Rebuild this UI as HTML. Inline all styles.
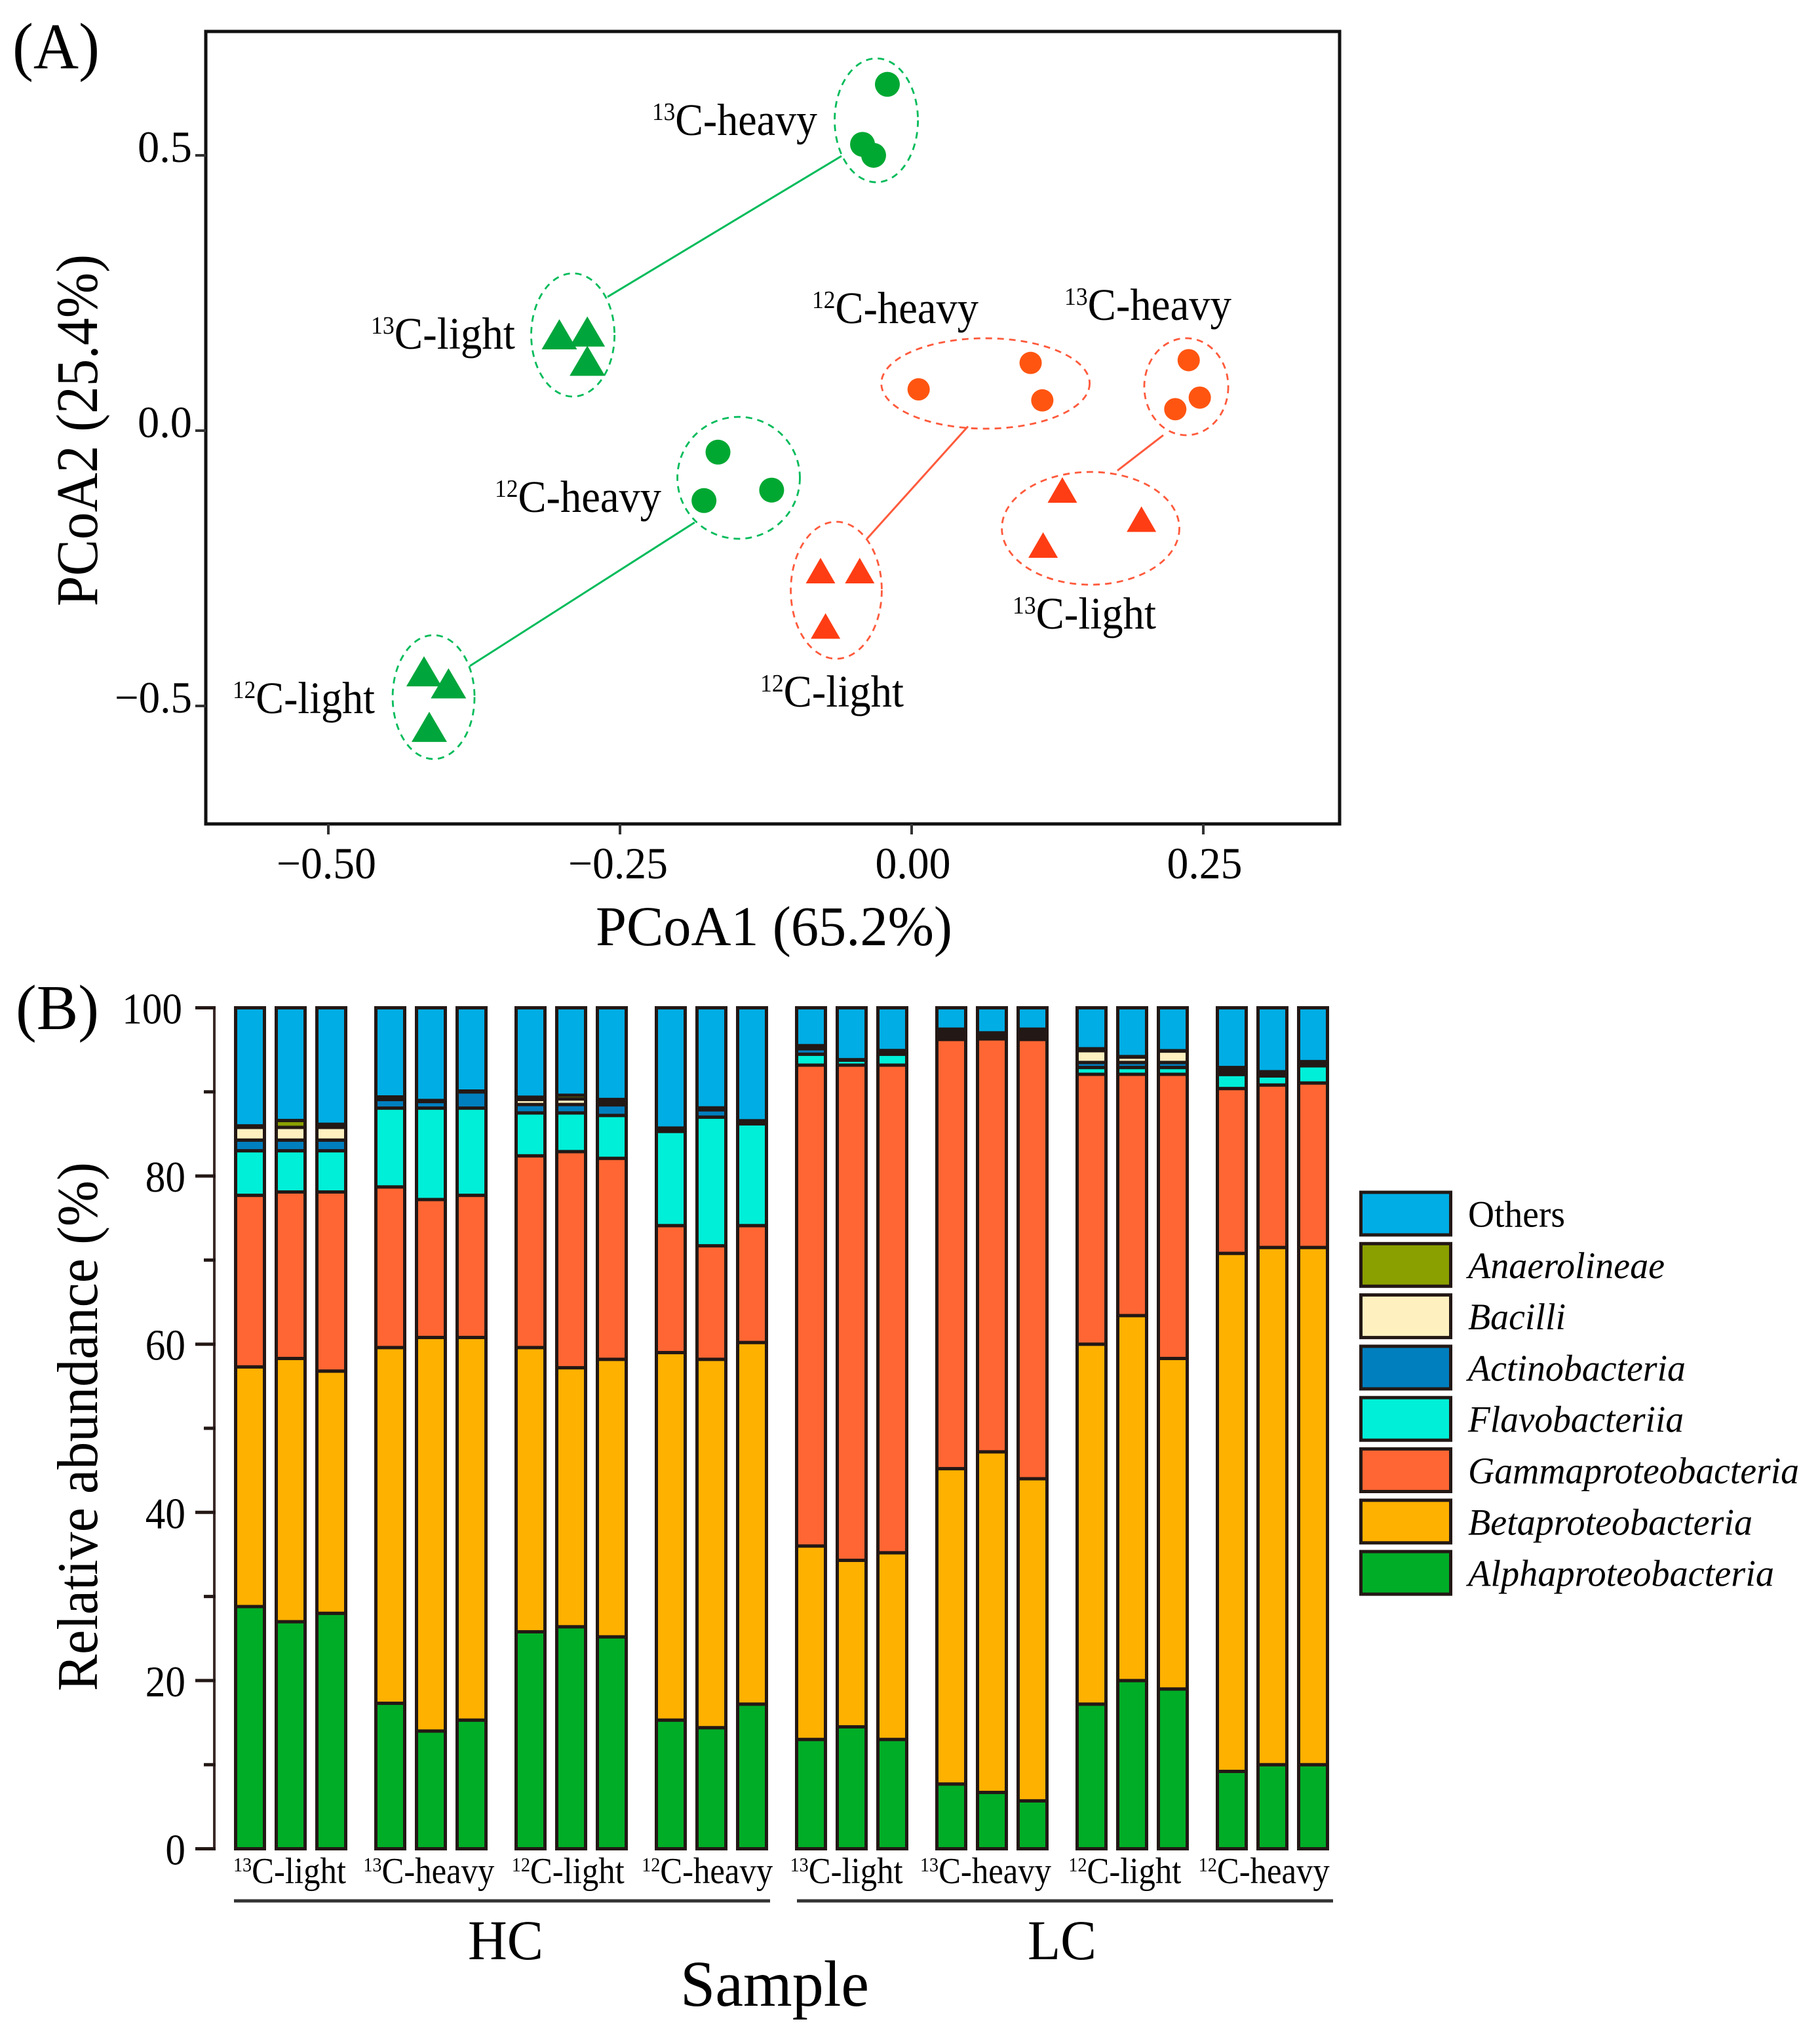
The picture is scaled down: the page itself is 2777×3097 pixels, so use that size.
<!DOCTYPE html>
<html lang="en">
<head>
<meta charset="utf-8">
<title>PCoA and relative abundance chart</title>
<style>
html,body{margin:0;padding:0;background:#fff;}
svg{display:block;}
text{font-family:"Liberation Serif",serif;fill:#000;}
</style>
</head>
<body>
<svg id="chart" xmlns="http://www.w3.org/2000/svg" width="2777" height="3097" viewBox="0 0 2777 3097">
<rect x="0" y="0" width="2777" height="3097" fill="#fff"/>

<text x="19" y="104" font-size="100" textLength="133" lengthAdjust="spacingAndGlyphs">(A)</text>
<rect x="314" y="48" width="1730" height="1209" fill="none" stroke="#111" stroke-width="5"/>
<g id="scatterAxes"></g>
<g id="scatterGuides"></g>
<g id="scatterMarks"></g>

<text x="995" y="206" font-size="69" textLength="252" lengthAdjust="spacingAndGlyphs"><tspan font-size="38" dy="-23">13</tspan><tspan dy="23">C-heavy</tspan></text>
<text x="566" y="532" font-size="69" textLength="220" lengthAdjust="spacingAndGlyphs"><tspan font-size="38" dy="-23">13</tspan><tspan dy="23">C-light</tspan></text>
<text x="755" y="781" font-size="69" textLength="254" lengthAdjust="spacingAndGlyphs"><tspan font-size="38" dy="-23">12</tspan><tspan dy="23">C-heavy</tspan></text>
<text x="355" y="1088" font-size="69" textLength="217" lengthAdjust="spacingAndGlyphs"><tspan font-size="38" dy="-23">12</tspan><tspan dy="23">C-light</tspan></text>
<text x="1239" y="493" font-size="69" textLength="254" lengthAdjust="spacingAndGlyphs"><tspan font-size="38" dy="-23">12</tspan><tspan dy="23">C-heavy</tspan></text>
<text x="1624" y="488" font-size="69" textLength="255" lengthAdjust="spacingAndGlyphs"><tspan font-size="38" dy="-23">13</tspan><tspan dy="23">C-heavy</tspan></text>
<text x="1545" y="959" font-size="69" textLength="219" lengthAdjust="spacingAndGlyphs"><tspan font-size="38" dy="-23">13</tspan><tspan dy="23">C-light</tspan></text>
<text x="1160" y="1078" font-size="69" textLength="219" lengthAdjust="spacingAndGlyphs"><tspan font-size="38" dy="-23">12</tspan><tspan dy="23">C-light</tspan></text>

<text x="909" y="1442" font-size="86" textLength="544" lengthAdjust="spacingAndGlyphs">PCoA1 (65.2%)</text>
<text transform="translate(148,925) rotate(-90)" x="0" y="0" font-size="90" textLength="537" lengthAdjust="spacingAndGlyphs">PCoA2 (25.4%)</text>

<text x="24" y="1570" font-size="98" textLength="127" lengthAdjust="spacingAndGlyphs">(B)</text>
<text transform="translate(148,2580) rotate(-90)" x="0" y="0" font-size="88" textLength="807" lengthAdjust="spacingAndGlyphs">Relative abundance (%)</text>
<g id="barAxes"></g>
<g id="barMarks"></g>
<g id="barLabels"></g>

<line x1="357" y1="2900" x2="1175" y2="2900" stroke="#333" stroke-width="5"/>
<line x1="1216" y1="2900" x2="2034" y2="2900" stroke="#333" stroke-width="5"/>
<text x="714" y="2989" font-size="86" textLength="115" lengthAdjust="spacingAndGlyphs">HC</text>
<text x="1568" y="2989" font-size="86" textLength="105" lengthAdjust="spacingAndGlyphs">LC</text>
<text x="1038" y="3060" font-size="100" textLength="288" lengthAdjust="spacingAndGlyphs">Sample</text>
<g id="legend"></g>
</svg>

<script>
// ---------- Panel A data (PCoA units) ----------
const greenCircleX = [-0.0208, -0.0421, -0.0326, -0.166, -0.120, -0.178];
const greenCircleY = [0.629, 0.520, 0.500, -0.039, -0.108, -0.127];
const greenTriangleX = [-0.302, -0.278, -0.278, -0.418, -0.397, -0.4135];
const greenTriangleY = [0.175, 0.180, 0.127, -0.437, -0.459, -0.538];
const orangeCircleX = [0.006, 0.102, 0.112, 0.2375, 0.247, 0.226];
const orangeCircleY = [0.075, 0.123, 0.055, 0.128, 0.060, 0.039];
const orangeTriangleX = [0.1292, 0.197, 0.1127, -0.0781, -0.0445, -0.0738];
const orangeTriangleY = [-0.1077, -0.1607, -0.2077, -0.2542, -0.2542, -0.3548];
const xTickValues = [-0.5, -0.25, 0, 0.25];
const xTickLabels = ['\u22120.50', '\u22120.25', '0.00', '0.25'];
const yTickValues = [0.5, 0, -0.5];
const yTickLabels = ['0.5', '0.0', '\u22120.5'];
const clusterCx = [-0.0303, -0.2904, -0.1483, -0.4098, 0.0633, 0.2354, 0.1534, -0.0646];
const clusterCy = [0.5636, 0.1738, -0.0857, -0.4839, 0.0857, 0.0798, -0.1774, -0.2899];
const clusterRx = [0.0357, 0.0357, 0.0525, 0.0351, 0.0893, 0.036, 0.0761, 0.039];
const clusterRy = [0.1125, 0.1119, 0.1107, 0.1125, 0.0821, 0.0881, 0.1024, 0.1244];
const clusterHue = ['green', 'green', 'green', 'green', 'orange', 'orange', 'orange', 'orange'];
const linkX1 = [-0.0601, -0.186, 0.0483, 0.2157];
const linkY1 = [0.4988, -0.1667, 0.0077, -0.0083];
const linkX2 = [-0.2607, -0.3787, -0.0382, 0.1764];
const linkY2 = [0.2429, -0.4274, -0.1961, -0.0726];
const linkHue = ['green', 'green', 'orange', 'orange'];

// ---------- Panel B data (percent) ----------
const sampleGroups = ['13C-light', '13C-heavy', '12C-light', '12C-heavy', '13C-light', '13C-heavy', '12C-light', '12C-heavy'];
const alphaValues = [28.8, 27, 28, 17.3, 14, 15.3, 25.8, 26.4, 25.2, 15.3, 14.4, 17.2, 13, 14.5, 13, 7.7, 6.7, 5.7, 17.2, 20, 19, 9.2, 10, 10];
const betaValues = [28.5, 31.3, 28.8, 42.3, 46.8, 45.5, 33.8, 30.8, 33, 43.7, 43.8, 43, 23, 19.8, 22.2, 37.5, 40.5, 38.3, 42.8, 43.4, 39.3, 61.6, 61.5, 61.5];
const gammaValues = [20.4, 19.8, 21.3, 19.1, 16.4, 16.9, 22.8, 25.7, 23.9, 15.1, 13.5, 13.9, 57.18, 58.88, 57.98, 51.04, 49.1, 52.24, 32.09, 28.69, 33.79, 19.6, 19.32, 19.56];
const flavoValues = [5.3, 4.9, 4.9, 9.37, 10.87, 10.37, 5.1, 4.6, 5.1, 11.2, 15.3, 12.1, 1.3, 0.6, 1.3, 0.29, 0.2, 0.29, 0.81, 0.81, 0.81, 1.67, 1.08, 2.04];
const actinoValues = [1.27, 1.27, 1.27, 1.03, 0.78, 1.93, 1.0, 1.0, 1.26, 0.1, 0.87, 0.1, 0.65, 0, 0.12, 0.31, 0.2, 0.31, 0.6, 0.6, 0.6, 0.23, 0.15, 0.15];
const bacilliValues = [1.51, 1.51, 1.51, 0.15, 0.05, 0, 0.6, 0.66, 0.34, 0.15, 0.1, 0.15, 0.17, 0.02, 0.15, 0.31, 0.15, 0.31, 1.4, 0.64, 1.35, 0.3, 0.15, 0.2];
const anaeroValues = [0.18, 0.82, 0.37, 0.15, 0.08, 0.1, 0.27, 0.44, 0.3, 0.15, 0.13, 0.12, 0.2, 0.03, 0.17, 0.31, 0.17, 0.31, 0.23, 0.06, 0.05, 0.3, 0.2, 0.15];
const othersValues = [14.04, 13.4, 13.85, 10.6, 11.02, 9.9, 10.63, 10.4, 10.9, 14.3, 11.9, 13.43, 4.5, 6.17, 5.08, 2.54, 2.98, 2.54, 4.87, 5.8, 5.1, 7.1, 7.6, 6.4];
const taxaNames = ['Others', 'Anaerolineae', 'Bacilli', 'Actinobacteria', 'Flavobacteriia', 'Gammaproteobacteria', 'Betaproteobacteria', 'Alphaproteobacteria'];
const barTicks = [0, 10, 20, 30, 40, 50, 60, 70, 80, 90, 100];
const barTickLabels = ['0', '', '20', '', '40', '', '60', '', '80', '', '100'];

// ---------- Styling and scales ----------
const NS = 'http://www.w3.org/2000/svg';
const HUES = { green: '#00a832', orange: '#ff5511' };
const TRI = { green: '#00a63c', orange: '#ff3d14' };
const GUIDE = { green: '#00bb5a', orange: '#ff5a3c' };
const TAXON_COLORS = { Others: '#00ade4', Anaerolineae: '#8a9f00', Bacilli: '#fff0c0', Actinobacteria: '#007fbf', Flavobacteriia: '#00efd8', Gammaproteobacteria: '#ff6633', Betaproteobacteria: '#ffb100', Alphaproteobacteria: '#00ad27' };
const DARK = '#231815';
const sx = v => 1391 + 1780 * v;
const sy = v => 657 - 840 * v;
const sxLen = v => 1780 * v;
const syLen = v => 840 * v;
const by = v => 2820.5 - 12.83 * v;
const barLeft = i => 357 + Math.floor(i / 3) * 214 + (i % 3) * 62;
const BAR_W = 49;

function make(tag, attrs, parent) {
  const el = document.createElementNS(NS, tag);
  for (const k in attrs) el.setAttribute(k, attrs[k]);
  parent.appendChild(el);
  return el;
}
const scatterAxes = document.getElementById('scatterAxes');
const scatterGuides = document.getElementById('scatterGuides');
const scatterMarks = document.getElementById('scatterMarks');
const barAxes = document.getElementById('barAxes');
const barMarks = document.getElementById('barMarks');
const barLabels = document.getElementById('barLabels');
const legend = document.getElementById('legend');

// ---------- Panel A axes ----------
xTickValues.forEach((v, i) => {
  const t = make('line', { x1: sx(v), x2: sx(v), y1: 1257, y2: 1273, stroke: '#333', 'stroke-width': 4 }, scatterAxes);
  
  
  const l = make('text', { x: sx(v) + (v < 0 ? -3 : 2), y: 1340, 'font-size': 68, 'text-anchor': 'middle', textLength: xTickLabels[i].length === 5 ? 152 : 115, lengthAdjust: 'spacingAndGlyphs' }, scatterAxes);
  l.textContent = xTickLabels[i];
  
  
});
yTickValues.forEach((v, i) => {
  const t = make('line', { x1: 298, x2: 314, y1: sy(v), y2: sy(v), stroke: '#333', 'stroke-width': 4 }, scatterAxes);
  
  
  const l = make('text', { x: 293, y: sy(v) + 10, 'font-size': 68, 'text-anchor': 'end', textLength: yTickLabels[i].length === 4 ? 118 : 83, lengthAdjust: 'spacingAndGlyphs' }, scatterAxes);
  l.textContent = yTickLabels[i];
  
  
});

// ---------- Panel A guides ----------
clusterCx.forEach((c, i) => {
  const e = make('ellipse', { cx: sx(c), cy: sy(clusterCy[i]), rx: sxLen(clusterRx[i]), ry: syLen(clusterRy[i]), fill: 'none', stroke: GUIDE[clusterHue[i]], 'stroke-width': 2.8, 'stroke-dasharray': '10 8' }, scatterGuides);
  
  
});
linkX1.forEach((c, i) => {
  const l = make('line', { x1: sx(c), y1: sy(linkY1[i]), x2: sx(linkX2[i]), y2: sy(linkY2[i]), stroke: GUIDE[linkHue[i]], 'stroke-width': 3 }, scatterGuides);
  
  
});

// ---------- Panel A marks ----------
function drawCircles(xs, ys, hue, r) {
  xs.forEach((v, i) => {
    const c = make('circle', { cx: sx(v), cy: sy(ys[i]), r: r, fill: HUES[hue] }, scatterMarks);
    
    
  });
}
function drawTriangles(xs, ys, hue, w, h) {
  xs.forEach((v, i) => {
    const x = sx(v), y = sy(ys[i]);
    const p = make('polygon', { points: x + ',' + (y - h / 2) + ' ' + (x - w / 2) + ',' + (y + h / 2) + ' ' + (x + w / 2) + ',' + (y + h / 2), fill: TRI[hue] }, scatterMarks);
    
    
  });
}
drawCircles(greenCircleX, greenCircleY, 'green', 19);
drawTriangles(greenTriangleX, greenTriangleY, 'green', 54, 46);
drawCircles(orangeCircleX, orangeCircleY, 'orange', 17);
drawTriangles(orangeTriangleX, orangeTriangleY, 'orange', 45, 39);

// ---------- Panel B axes ----------
const barAxisLine = make('line', { x1: 327, x2: 327, y1: by(100) - 2, y2: by(0) + 2, stroke: '#3a2a28', 'stroke-width': 4 }, barAxes);


barTicks.forEach((v, i) => {
  const major = barTickLabels[i] !== '';
  const t = make('line', { x1: major ? 298 : 311, x2: 329, y1: by(v), y2: by(v), stroke: DARK, 'stroke-width': 5 }, barAxes);
  
  
  if (major) {
    const chars = barTickLabels[i].length;
    const l = make('text', { x: chars > 2 ? 278 : 283, y: by(v) + 24, 'font-size': 67, 'text-anchor': 'end', textLength: chars * 30.6, lengthAdjust: 'spacingAndGlyphs' }, barAxes);
    l.textContent = barTickLabels[i];
    
    
  }
});

// ---------- Panel B stacked bars ----------
const stackOrder = [
  ['Alphaproteobacteria', alphaValues],
  ['Betaproteobacteria', betaValues],
  ['Gammaproteobacteria', gammaValues],
  ['Flavobacteriia', flavoValues],
  ['Actinobacteria', actinoValues],
  ['Bacilli', bacilliValues],
  ['Anaerolineae', anaeroValues],
  ['Others', othersValues]
];
alphaValues.forEach((_, i) => {
  let base = 0;
  stackOrder.forEach(([name, vals]) => {
    const top = base + vals[i];
    const r = make('rect', { x: barLeft(i) + 2.5, y: by(top), width: BAR_W - 5, height: by(base) - by(top), fill: TAXON_COLORS[name], stroke: DARK, 'stroke-width': 5 }, barMarks);
    
    
    base = top;
  });
});

// ---------- Panel B sample labels ----------
sampleGroups.forEach((g, i) => {
  const heavy = g.indexOf('heavy') >= 0;
  const center = 442 + i * 212.4;
  const t = make('text', { x: center, y: 2873, 'font-size': 56, 'text-anchor': 'middle', textLength: heavy ? 200 : 172, lengthAdjust: 'spacingAndGlyphs' }, barLabels);
  
  
  const sup = make('tspan', { 'font-size': 31, dy: -18 }, t);
  sup.textContent = g.slice(0, 2);
  const rest = make('tspan', { dy: 18 }, t);
  rest.textContent = g.slice(2);
});

// ---------- Legend ----------
const legendWidths = [148, 300, 149, 332, 329, 505, 434, 467];
taxaNames.forEach((name, i) => {
  const top = 1816.5 + i * 78.3;
  const s = make('rect', { x: 2076.5, y: top + 2.5, width: 137, height: 65, fill: TAXON_COLORS[name], stroke: DARK, 'stroke-width': 5 }, legend);
  
  
  const t = make('text', { x: 2240, y: top + 55, 'font-size': 57, 'font-style': name === 'Others' ? 'normal' : 'italic', textLength: legendWidths[i], lengthAdjust: 'spacingAndGlyphs' }, legend);
  t.textContent = name;
  
  
});
</script>
</body>
</html>
